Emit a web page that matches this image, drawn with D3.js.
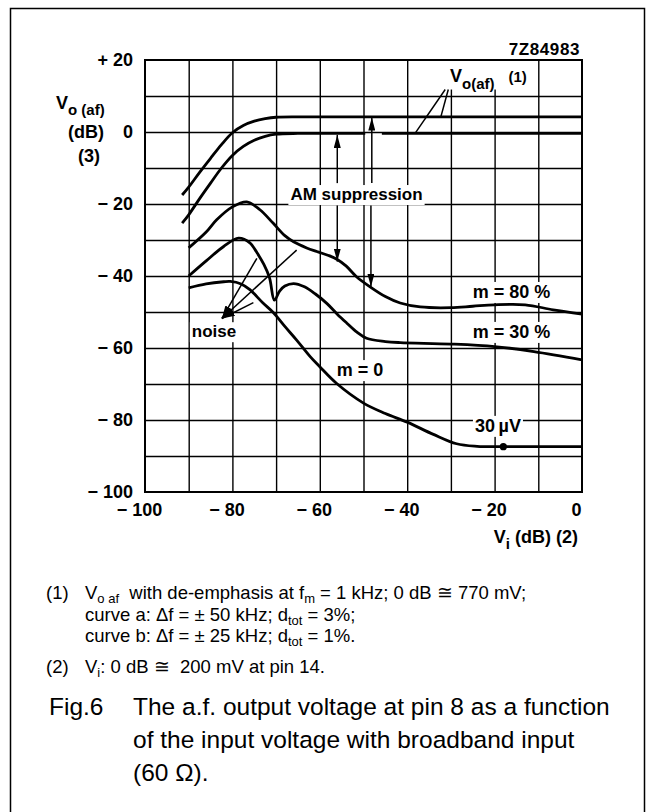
<!DOCTYPE html>
<html>
<head>
<meta charset="utf-8">
<script src="https://cdn.jsdelivr.net/npm/d3@7"></script>
<style>
  body { margin: 0; background: #fff; }
  svg text { font-family: "Liberation Sans", Arial, Helvetica, sans-serif; white-space: pre; }
</style>
</head>
<body>
<div id="chart"></div>
<script>
// values, Vi (dB) -> Vo (dB)
var viA = [-91.5, -90, -87.5, -85, -82.5, -80, -77.5, -75, -72.5, -70, -65, -60, -40, -20, 0];
var voA = [-17.5, -15.3, -11.2, -7.3, -3.5, -0.2, 1.8, 3.0, 3.7, 4.1, 4.2, 4.2, 4.2, 4.2, 4.2];

// curve b has a small break where the arrow crosses it (null = gap)
var viB = [-91.5, -90, -87.5, -85, -82.5, -80, -77.5, -75, -72.5, -70, -65, -60, -49.6, -47.7, -45.8, -30, -10, 0];
var voB = [-25.3, -23, -18.5, -14.2, -10, -6.5, -4, -2.3, -1.2, -0.6, -0.4, -0.4, -0.4, null, -0.4, -0.4, -0.4, -0.4];

var vi80 = [-90, -86, -83.6, -80, -76.7, -73.7, -70.7, -68, -66, -63, -60.7, -58, -56, -54, -51.6, -48.5, -45, -41.6, -37, -30, -25, -20, -13, -6.6, 0];
var vo80 = [-32.2, -27.8, -24.4, -20.8, -19.4, -21.6, -25.3, -28.8, -30.5, -32.2, -33.2, -34.3, -35.4, -37.2, -40.2, -43, -45.7, -47.5, -48.6, -48.8, -48.4, -48, -48, -49.4, -50.6];

var vi30 = [-90, -86, -82, -78.6, -76, -74.4, -72.8, -71.5, -70.4, -69.2, -68, -66, -63.5, -61, -58.4, -56, -53.8, -51.5, -49.3, -45, -41.6, -30, -20, -11, 0];
var vo30 = [-40, -35.8, -31.8, -29.5, -30.8, -33.5, -36.8, -40.5, -46.7, -44.2, -42.8, -42.1, -43, -45, -47.6, -50.6, -53.1, -55.6, -57.3, -58.2, -58.5, -58.9, -59.6, -61, -63.3];

var vi0 = [-90, -86, -82, -80.5, -78, -76, -73, -70.6, -68, -65.3, -62.2, -60, -56.2, -50, -45, -40, -34, -28.7, -24, -18, -10, 0];
var vo0 = [-43.3, -42.2, -41.6, -41.5, -42.2, -43.8, -47.5, -50.2, -54, -57.8, -62.4, -65.2, -69.8, -75.3, -78.2, -80.6, -84, -86.6, -87.3, -87.4, -87.4, -87.4];

var dotVi = [-18];
var dotVo = [-87.4];

var xTicks = [-100, -80, -60, -40, -20, 0];
var yTicks = [-100, -80, -60, -40, -20, 0, 20];
var xGrid = d3.range(-90, 0, 10);
var yGrid = d3.range(-90, 20, 10);

// annotation arrows (data units)
var amArrows = [
  { x: -56, from: -14.2, to: -0.8 },
  { x: -48.1, from: -14.2, to: 4.0 },
  { x: -56, from: -20.4, to: -36 },
  { x: -48.3, from: -20.4, to: -43 }
];
var noiseTip = [-82.4, -51.8];
var noiseFrom = [[-74.4, -35.1], [-65.3, -32.8], [-75.2, -47.4]];
var voLeaders = [[[-38.2, -0.4], [-31.3, 11.8]], [[-32.3, 4.2], [-30.6, 11.8]]];

var W = 653, H = 812;
var svg = d3.select('#chart').append('svg').attr('width', W).attr('height', H);

var defs = svg.append('defs');
defs.append('marker').attr('id', 'ah')
  .attr('markerUnits', 'userSpaceOnUse')
  .attr('markerWidth', 13).attr('markerHeight', 7)
  .attr('refX', 13).attr('refY', 3.5).attr('orient', 'auto')
  .append('path').attr('d', 'M0,0 L13,3.5 L0,7 Z').attr('fill', '#000');

var x = d3.scaleLinear().domain([-100, 0]).range([145, 582]);
var y = d3.scaleLinear().domain([-100, 20]).range([492, 60]);

var plot = svg.append('g');

// grid
plot.append('g').attr('transform', 'translate(0,492)')
  .call(d3.axisBottom(x).tickValues(xGrid).tickSize(-(492 - 60)).tickFormat(''))
  .call(function(g) { g.select('.domain').remove(); })
  .selectAll('line').attr('stroke', '#000').attr('stroke-width', 1.4);
plot.append('g').attr('transform', 'translate(145,0)')
  .call(d3.axisLeft(y).tickValues(yGrid).tickSize(-(582 - 145)).tickFormat(''))
  .call(function(g) { g.select('.domain').remove(); })
  .selectAll('line').attr('stroke', '#000').attr('stroke-width', 1.4);

function fmt(d) { return d > 0 ? '+ ' + d : d < 0 ? '\u2212 ' + (-d) : '0'; }

var yax = plot.append('g').attr('transform', 'translate(145,0)')
  .call(d3.axisLeft(y).tickValues(yTicks).tickSize(0).tickPadding(12).tickFormat(fmt));
yax.select('.domain').remove();
yax.selectAll('text').attr('font-size', 18).attr('font-weight', 'bold').attr('fill', '#000')
  .attr('font-family', '"Liberation Sans", Arial, sans-serif');

var xax = plot.append('g').attr('transform', 'translate(0,492)')
  .call(d3.axisBottom(x).tickValues(xTicks).tickSize(0).tickPadding(11).tickFormat(fmt));
xax.select('.domain').remove();
xax.selectAll('text').attr('font-size', 18).attr('font-weight', 'bold').attr('fill', '#000')
  .attr('dx', -6).attr('font-family', '"Liberation Sans", Arial, sans-serif');

// text with subscripts: parts = [[text, 'sub'?, size?, dx?], ...]
function rich(parent, px, py, parts, size, weight, anchor, subSize, subShift) {
  var t = parent.append('text').attr('x', px).attr('y', py)
    .attr('font-size', size).attr('font-weight', weight || 'normal')
    .attr('text-anchor', anchor || 'start').attr('fill', '#000');
  var cur = 0;
  parts.forEach(function(p) {
    var s = p[1] === 'sub' ? (subShift || size * 0.3) : 0;
    var ts = t.append('tspan').attr('dy', s - cur)
      .attr('font-size', p[1] === 'sub' ? (subSize || size * 0.75) : (p[2] || size))
      .text(p[0]);
    if (p[3]) ts.attr('dx', p[3]);
    cur = s;
  });
  return t;
}

function boxed(t, pad) {
  var b = t.node().getBBox();
  d3.select(t.node().parentNode).insert('rect', function() { return t.node(); })
    .attr('x', b.x - pad).attr('y', b.y - pad + 2)
    .attr('width', b.width + 2 * pad).attr('height', b.height + 2 * pad - 3)
    .attr('fill', '#fff');
}

var labels = plot.append('g');
function lab(txt, vx, vy, anchor, size) {
  var g = labels.append('g');
  var t = g.append('text').attr('x', x(vx)).attr('y', y(vy)).attr('text-anchor', anchor)
    .attr('font-size', size).attr('font-weight', 'bold').attr('fill', '#000').text(txt);
  boxed(t, 2);
}
lab('AM suppression', -51.6, -18.9, 'middle', 17);
lab('noise', -84.2, -57, 'middle', 17);
lab('m = 80 %', -25, -46.1, 'start', 18);
lab('m = 30 %', -25, -57.2, 'start', 18);
lab('m = 0', -56.1, -67.8, 'start', 18);
lab('30\u2009\u00b5V', -24.5, -83.3, 'start', 18);

// Vo(af) (1) label inside plot
var vg = labels.append('g');
var vt = rich(vg, x(-30.2), y(13.9), [['V'], ['o(af)', 'sub'], ['(1)', null, 15, 14]], 18, 'bold', 'start', 15, 7);
(function() {
  var b = vt.node().getBBox();
  vg.insert('rect', 'text').attr('x', b.x - 5).attr('y', 61).attr('width', b.width + 12)
    .attr('height', y(11.8) - 61).attr('fill', '#fff');
})();

// figure code
svg.append('text').attr('x', 580).attr('y', 55).attr('text-anchor', 'end')
  .attr('font-size', 17).attr('font-weight', 'bold').attr('letter-spacing', 0.6).text('7Z84983');

// axis titles
rich(svg, 56, 109, [['V'], ['o (af)', 'sub']], 18, 'bold', 'start', 15, 6);
svg.append('text').attr('x', 68).attr('y', 138).attr('font-size', 18).attr('font-weight', 'bold').text('(dB)');
svg.append('text').attr('x', 78).attr('y', 162).attr('font-size', 18).attr('font-weight', 'bold').text('(3)');
rich(svg, 578, 543, [['V'], ['i', 'sub'], [' (dB) (2)']], 18, 'bold', 'end', 15, 6);

// curves
var line = d3.line()
  .defined(function(d) { return d[1] !== null; })
  .x(function(d) { return x(d[0]); })
  .y(function(d) { return y(d[1]); })
  .curve(d3.curveCatmullRom.alpha(0.5));

var series = [[viA, voA], [viB, voB], [vi80, vo80], [vi30, vo30], [vi0, vo0]];
plot.append('g').selectAll('path').data(series).enter().append('path')
  .attr('d', function(s) { return line(s[0].map(function(v, i) { return [v, s[1][i]]; })); })
  .attr('fill', 'none').attr('stroke', '#000').attr('stroke-width', 2.8)
  .attr('stroke-linejoin', 'round');

plot.append('g').selectAll('circle').data(dotVi).enter().append('circle')
  .attr('cx', function(d) { return x(d); })
  .attr('cy', function(d, i) { return y(dotVo[i]); })
  .attr('r', 3.6).attr('fill', '#000');

// arrows
var arr = plot.append('g').attr('stroke', '#000').attr('stroke-width', 1.5);
arr.selectAll('line.am').data(amArrows).enter().append('line')
  .attr('x1', function(d) { return x(d.x); }).attr('x2', function(d) { return x(d.x); })
  .attr('y1', function(d) { return y(d.from); }).attr('y2', function(d) { return y(d.to); })
  .attr('marker-end', 'url(#ah)');
arr.selectAll('line.nz').data(noiseFrom).enter().append('line')
  .attr('x1', function(d) { return x(d[0]); }).attr('y1', function(d) { return y(d[1]); })
  .attr('x2', x(noiseTip[0])).attr('y2', y(noiseTip[1]))
  .attr('marker-end', 'url(#ah)');
arr.selectAll('line.ld').data(voLeaders).enter().append('line')
  .attr('x1', function(d) { return x(d[0][0]); }).attr('y1', function(d) { return y(d[0][1]); })
  .attr('x2', function(d) { return x(d[1][0]); }).attr('y2', function(d) { return y(d[1][1]); });

// plot border
plot.append('rect').attr('x', 145).attr('y', 60).attr('width', 582 - 145).attr('height', 492 - 60)
  .attr('fill', 'none').attr('stroke', '#000').attr('stroke-width', 2);

// notes
var fs = 18.5;
svg.append('text').attr('x', 46).attr('y', 599).attr('font-size', fs).text('(1)');
rich(svg, 85, 599, [['V'], ['o af', 'sub'], ['  with de-emphasis at f'], ['m', 'sub'], [' = 1 kHz; 0 dB \u2245 770 mV;']], fs, 'normal', 'start', 13, 4);
rich(svg, 85, 621, [['curve a: \u0394f = \u00b1 50 kHz; d'], ['tot', 'sub'], [' = 3%;']], fs, 'normal', 'start', 13, 4);
rich(svg, 85, 642, [['curve b: \u0394f = \u00b1 25 kHz; d'], ['tot', 'sub'], [' = 1%.']], fs, 'normal', 'start', 13, 4);
svg.append('text').attr('x', 46).attr('y', 673).attr('font-size', fs).text('(2)');
rich(svg, 85, 673, [['V'], ['i', 'sub'], [': 0 dB \u2245  200 mV at pin 14.']], fs, 'normal', 'start', 13, 4);

var cs = 24.5;
svg.append('text').attr('x', 49).attr('y', 715).attr('font-size', cs).text('Fig.6');
svg.append('text').attr('x', 133).attr('y', 715).attr('font-size', cs).text('The a.f. output voltage at pin 8 as a function');
svg.append('text').attr('x', 133).attr('y', 748).attr('font-size', cs).text('of the input voltage with broadband input');
svg.append('text').attr('x', 133).attr('y', 781).attr('font-size', cs).text('(60 \u03a9).');

// outer frame (open at the bottom)
svg.append('rect').attr('x', 10.5).attr('y', 8.5).attr('width', 634).attr('height', H + 20)
  .attr('fill', 'none').attr('stroke', '#000').attr('stroke-width', 1.5);
</script>
</body>
</html>
